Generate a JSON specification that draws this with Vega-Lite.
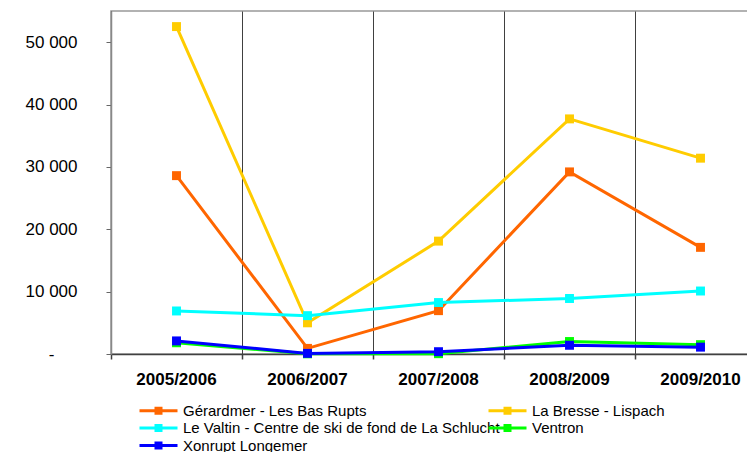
{
  "$schema": "https://vega.github.io/schema/vega-lite/v6.json",
  "autosize": "none",
  "width": 655,
  "height": 343,
  "padding": {"left": 111, "top": 11, "right": 0, "bottom": 98},
  "background": "white",
  "config": {
    "view": {"stroke": "#999999", "strokeWidth": 1.5},
    "font": "Liberation Sans"
  },
  "data": {
    "values": [
      {"series": "Gérardmer - Les Bas Rupts", "season": "2005/2006", "value": 28600},
      {"series": "Gérardmer - Les Bas Rupts", "season": "2006/2007", "value": 900},
      {"series": "Gérardmer - Les Bas Rupts", "season": "2007/2008", "value": 6950},
      {"series": "Gérardmer - Les Bas Rupts", "season": "2008/2009", "value": 29200},
      {"series": "Gérardmer - Les Bas Rupts", "season": "2009/2010", "value": 17100},
      {"series": "La Bresse - Lispach", "season": "2005/2006", "value": 52500},
      {"series": "La Bresse - Lispach", "season": "2006/2007", "value": 5000},
      {"series": "La Bresse - Lispach", "season": "2007/2008", "value": 18100},
      {"series": "La Bresse - Lispach", "season": "2008/2009", "value": 37700},
      {"series": "La Bresse - Lispach", "season": "2009/2010", "value": 31400},
      {"series": "Le Valtin - Centre de ski de fond de La Schlucht", "season": "2005/2006", "value": 6900},
      {"series": "Le Valtin - Centre de ski de fond de La Schlucht", "season": "2006/2007", "value": 6150},
      {"series": "Le Valtin - Centre de ski de fond de La Schlucht", "season": "2007/2008", "value": 8250},
      {"series": "Le Valtin - Centre de ski de fond de La Schlucht", "season": "2008/2009", "value": 8900},
      {"series": "Le Valtin - Centre de ski de fond de La Schlucht", "season": "2009/2010", "value": 10100},
      {"series": "Ventron", "season": "2005/2006", "value": 1800},
      {"series": "Ventron", "season": "2006/2007", "value": 30},
      {"series": "Ventron", "season": "2007/2008", "value": 50},
      {"series": "Ventron", "season": "2008/2009", "value": 2000},
      {"series": "Ventron", "season": "2009/2010", "value": 1500},
      {"series": "Xonrupt Longemer", "season": "2005/2006", "value": 2100},
      {"series": "Xonrupt Longemer", "season": "2006/2007", "value": 100},
      {"series": "Xonrupt Longemer", "season": "2007/2008", "value": 370},
      {"series": "Xonrupt Longemer", "season": "2008/2009", "value": 1400},
      {"series": "Xonrupt Longemer", "season": "2009/2010", "value": 1100}
    ]
  },
  "mark": {
    "type": "line",
    "strokeWidth": 3,
    "point": {"shape": "square", "filled": true, "size": 80, "opacity": 1}
  },
  "encoding": {
    "x": {
      "field": "season",
      "type": "nominal",
      "sort": null,
      "scale": {"type": "band", "paddingInner": 0, "paddingOuter": 0},
      "axis": {
        "title": null,
        "bandPosition": 0,
        "labelAngle": 0,
        "grid": true,
        "gridColor": "#404040",
        "gridWidth": 1,
        "domainColor": "#404040",
        "domainWidth": 1.5,
        "tickColor": "#404040",
        "tickWidth": 1.5,
        "tickSize": 5,
        "labelFont": "Liberation Sans",
        "labelFontSize": 17,
        "labelFontWeight": "bold",
        "labelColor": "black",
        "labelPadding": 12,
        "encode": {"labels": {"update": {"dx": {"value": 65.5}}}}
      }
    },
    "y": {
      "field": "value",
      "type": "quantitative",
      "scale": {"domain": [0, 55000], "nice": false},
      "axis": {
        "title": null,
        "values": [0, 10000, 20000, 30000, 40000, 50000],
        "grid": false,
        "domainColor": "#888888",
        "domainWidth": 1.5,
        "tickColor": "#666666",
        "tickSize": 5,
        "labelFont": "Liberation Sans",
        "labelFontSize": 17,
        "labelColor": "black",
        "labelAlign": "center",
        "labelPadding": 55,
        "labelExpr": "datum.value == 0 ? '-' : replace(format(datum.value, ','), ',', ' ')"
      }
    },
    "color": {
      "field": "series",
      "type": "nominal",
      "sort": null,
      "scale": {
        "domain": ["Gérardmer - Les Bas Rupts", "La Bresse - Lispach", "Le Valtin - Centre de ski de fond de La Schlucht", "Ventron", "Xonrupt Longemer"],
        "range": ["#FF6600", "#FFCC00", "#00FFFF", "#00FF00", "#0000FF"]
      },
      "legend": {
        "title": null,
        "orient": "none",
        "direction": "horizontal",
        "legendX": 40,
        "legendY": 392,
        "columns": 2,
        "columnPadding": -19,
        "rowPadding": 1.5,
        "labelLimit": 0,
        "symbolType": "M-3.8,-0.3L3.8,-0.3L3.8,0.3L-3.8,0.3Z M-0.8,-0.8L0.8,-0.8L0.8,0.8L-0.8,0.8Z",
        "symbolSize": 100,
        "symbolStrokeWidth": 0,
        "symbolOpacity": 1,
        "labelOffset": 17,
        "labelFont": "Liberation Sans",
        "labelFontSize": 15,
        "labelColor": "black",
        "encode": {
          "symbols": {"update": {"fill": {"scale": "color", "field": "value"}, "fillOpacity": {"value": 1}, "strokeWidth": {"value": 0}}}
        }
      }
    }
  }
}
